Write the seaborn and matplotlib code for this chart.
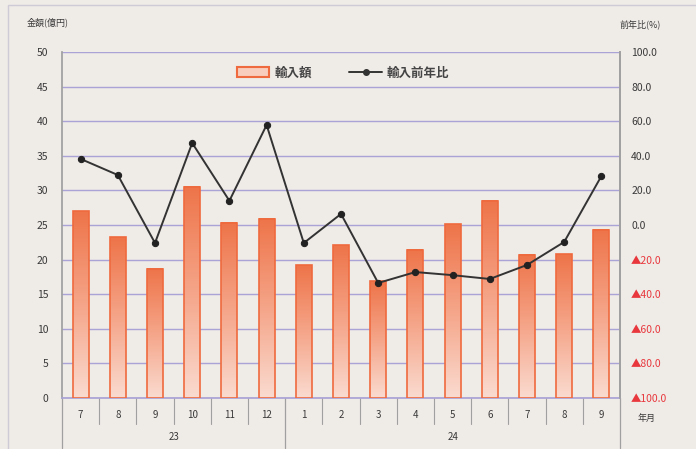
import numpy as np
import pandas as pd
import matplotlib
matplotlib.use('Agg')
import matplotlib.pyplot as plt
import seaborn as sns
from matplotlib.colors import LinearSegmentedColormap
from matplotlib.patches import Patch, Rectangle
from matplotlib.lines import Line2D

# ---- data ----
months = ['7', '8', '9', '10', '11', '12', '1', '2', '3', '4', '5', '6', '7', '8', '9']
years = ['23', '24']
year_counts = [6, 9]
import_value = [27.0, 23.2, 18.7, 30.5, 25.3, 25.9, 19.2, 22.1, 16.9, 21.4, 25.1, 28.5, 20.7, 20.8, 24.3]
yoy_pct = [38.2, 28.9, -10.4, 47.4, 14.0, 57.8, -10.4, 6.4, -33.5, -27.2, -29.0, -31.2, -23.1, -9.8, 28.3]
left_ticks = [0, 5, 10, 15, 20, 25, 30, 35, 40, 45, 50]
right_ticks = [-100, -80, -60, -40, -20, 0, 20, 40, 60, 80, 100]
legend_labels = ['輸入額', '輸入前年比']

sns.set_theme(style='white')
plt.rcParams['font.family'] = ['Noto Sans CJK JP', 'DejaVu Sans']

BG = '#efebe7'
GRID = '#aaa3d6'
TXT = '#3a3a3a'
RED = '#e8383d'

df = pd.DataFrame({'idx': np.arange(len(months)), 'value': import_value, 'yoy': yoy_pct})

fig = plt.figure(figsize=(6.96, 4.49), dpi=100, facecolor=BG)
fig.patches.append(Rectangle((8 / 696, -0.01), 1.0, 1 - 5 / 449 + 0.01, transform=fig.transFigure,
                             fill=False, edgecolor='#cfcbd6', lw=1))
ax = fig.add_axes([62 / 696, 51 / 449, 558 / 696, 346 / 449])
ax.set_facecolor(BG)

sns.barplot(data=df, x='idx', y='value', ax=ax, width=0.43, color='#f07a52',
            edgecolor='#ef6a3e', linewidth=1.2, zorder=3)

cmap = LinearSegmentedColormap.from_list('g', ['#fadbd0', '#f5a589', '#ee7449'])
grad = np.linspace(1, 0, 256).reshape(-1, 1)
for p in ax.patches:
    x0, w, h = p.get_x(), p.get_width(), p.get_height()
    ax.imshow(grad, extent=[x0, x0 + w, 0, h], aspect='auto', cmap=cmap,
              origin='upper', zorder=3, interpolation='bilinear')
    p.set_facecolor('none')
    p.set_zorder(4)

ax.set_xlim(-0.5, len(months) - 0.5)
ax.set_ylim(0, 50)
ax.set_yticks(left_ticks)
ax.set_yticklabels([str(v) for v in left_ticks])
ax.yaxis.grid(True, color=GRID, lw=1)
ax.set_axisbelow(True)
ax.set_xticks(range(len(months)))
ax.set_xticklabels(months)
ax.tick_params(axis='x', length=0, pad=9, labelsize=7, labelcolor=TXT)
ax.tick_params(axis='y', length=0, pad=10, labelsize=7.5, labelcolor=TXT)
ax.set_xlabel('')
ax.set_ylabel('')
ax.spines['top'].set_visible(False)
ax.spines['bottom'].set_color(GRID)
ax.spines['left'].set_color('#a0a0a0')
ax.spines['right'].set_color('#a0a0a0')

ax2 = ax.twinx()
sns.lineplot(data=df, x='idx', y='yoy', ax=ax2, color='#333333', lw=1.4,
             marker='o', markersize=4.5, markeredgecolor='#222222', markerfacecolor='#222222')
ax2.set_ylim(-100, 100)
ax2.set_xlim(-0.5, len(months) - 0.5)
ax2.set_yticks(right_ticks)
ax2.set_yticklabels([f'{v:.1f}' if v >= 0 else f'▲{abs(v):.1f}' for v in right_ticks])
for lab, v in zip(ax2.get_yticklabels(), right_ticks):
    lab.set_color(RED if v < 0 else TXT)
ax2.tick_params(axis='y', length=0, pad=8, labelsize=7.5)
ax2.set_ylabel('')
ax2.set_xlabel('')
for s in ['top', 'left', 'bottom']:
    ax2.spines[s].set_visible(False)
ax2.spines['right'].set_color('#a0a0a0')
ax2.grid(False)

# category separators below axis
trans = ax.get_xaxis_transform()
bounds = np.cumsum([0] + year_counts) - 0.5
for i in range(1, len(months)):
    xb = i - 0.5
    if xb in bounds:
        continue
    ax.plot([xb, xb], [0, -26 / 346], transform=trans, color='#a0a0a0', lw=0.8, clip_on=False)
for xb in bounds:
    ax.plot([xb, xb], [0, -50 / 346], transform=trans, color='#a0a0a0', lw=0.9, clip_on=False)
for yl, a, b in zip(years, bounds[:-1], bounds[1:]):
    ax.text((a + b) / 2, -39 / 346, yl, transform=trans, ha='center', va='center',
            fontsize=7, color=TXT)

# axis titles
fig.text(27 / 696, 1 - 22 / 449, '金額(億円)', fontsize=6.5, color=TXT, ha='left', va='center')
fig.text(620 / 696, 1 - 24 / 449, '前年比(%)', fontsize=6.5, color=TXT, ha='left', va='center')
fig.text(638 / 696, 1 - 418 / 449, '年月', fontsize=6.5, color=TXT, ha='left', va='center')

handles = [Patch(facecolor='#f9cdbd', edgecolor='#ef6a3e', lw=1.5),
           Line2D([], [], color='#333333', marker='o', markersize=4, lw=1.4)]
leg = ax2.legend(handles, legend_labels, loc='center', bbox_to_anchor=(0.504, 0.939), ncol=2,
                 frameon=False, handlelength=2.6, handleheight=0.8, columnspacing=3.0,
                 handletextpad=0.4, prop={'size': 9, 'weight': 'bold'})
for t in leg.get_texts():
    t.set_color('#444444')

fig.savefig('out.png', dpi=100, facecolor=BG)
